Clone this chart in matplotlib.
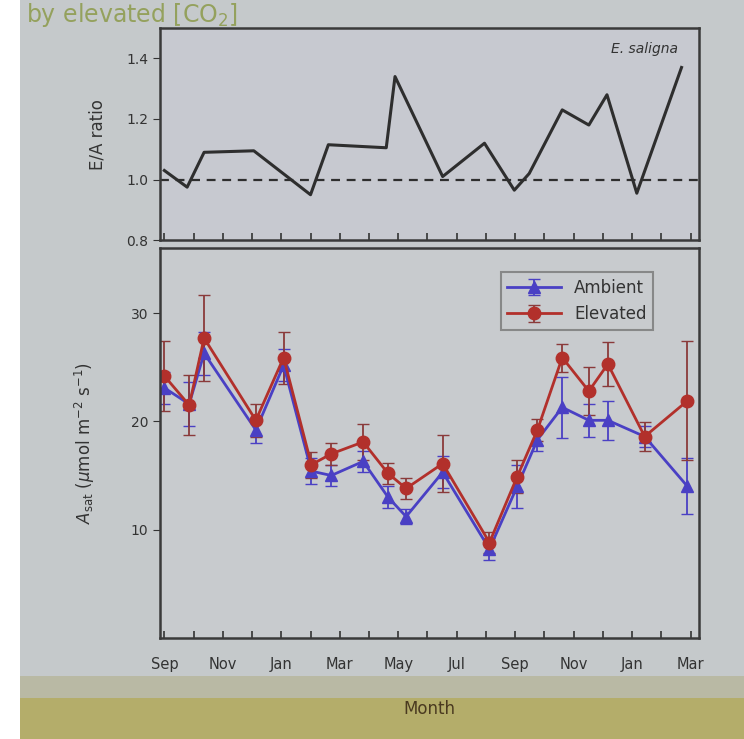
import matplotlib.pyplot as plt
import matplotlib.patches as patches

'''two stacked panels: E/A ratio on top, Asat for ambient / elevated CO2 below'''

# months counted from the first September (0 = Sep, 2 = Nov, ...)
month_ticks = [0, 2, 4, 6, 8, 10, 12, 14, 16, 18]
month_labels = ['Sep', 'Nov', 'Jan', 'Mar', 'May', 'Jul', 'Sep', 'Nov', 'Jan', 'Mar']

# top panel - elevated / ambient ratio
ratio_months = [0.0, 0.78, 1.36, 3.06, 5.0, 5.61, 7.59, 7.89, 9.52, 10.95,
                11.97, 12.48, 13.61, 14.52, 15.14, 16.16, 17.69]
ratio_values = [1.03, 0.975, 1.09, 1.095, 0.95, 1.115, 1.105, 1.34, 1.01, 1.12,
                0.965, 1.02, 1.23, 1.18, 1.28, 0.955, 1.37]

# lower panel - Asat
asat_months = [0.0, 0.85, 1.36, 3.13, 4.08, 5.03, 5.71, 6.80, 7.65, 8.27,
               9.52, 11.12, 12.07, 12.76, 13.61, 14.52, 15.17, 16.43, 17.89]
ambient = [23.1, 21.6, 26.3, 19.2, 25.2, 15.4, 15.0, 16.3, 13.0, 11.2,
           15.3, 8.2, 14.0, 18.3, 21.3, 20.1, 20.1, 18.6, 14.0]
ambient_err = [1.5, 2.0, 2.0, 1.2, 1.5, 1.2, 1.0, 1.0, 1.0, 0.7,
               1.5, 1.0, 2.0, 1.0, 2.8, 1.5, 1.8, 1.0, 2.6]
elevated = [24.2, 21.5, 27.7, 20.1, 25.9, 16.0, 17.0, 18.1, 15.2, 13.8,
            16.1, 8.8, 14.9, 19.2, 25.9, 22.8, 25.3, 18.6, 21.9]
elevated_err = [3.2, 2.8, 4.0, 1.5, 2.4, 1.2, 1.0, 1.7, 1.0, 1.0,
                2.6, 1.0, 1.5, 1.0, 1.3, 2.2, 2.0, 1.3, 5.5]

bg = '#c5c9cb'
ink = '#333333'
blue = '#4a40c4'
red = '#b2302b'

fig = plt.figure(figsize=(7.44, 7.39), dpi=100, facecolor=bg)

# photo surroundings: white strip at left, plants at the bottom
fig.patches.append(patches.Rectangle((0, 0), 0.027, 1, transform=fig.transFigure,
                                     facecolor='white', edgecolor='none', zorder=-5))
fig.patches.append(patches.Rectangle((0.027, 0), 0.973, 0.055, transform=fig.transFigure,
                                     facecolor='#b4ad6a', edgecolor='none', zorder=-5))
fig.patches.append(patches.Rectangle((0.027, 0.055), 0.973, 0.03, transform=fig.transFigure,
                                     facecolor='#b9b9a4', edgecolor='none', zorder=-5))

# slide title at the top edge of the photo
fig.text(0.035, 0.998, 'by elevated [CO$_2$]', fontsize=17, color='#8c9a4a',
         ha='left', va='top', alpha=0.85)

ax1 = fig.add_axes([0.215, 0.675, 0.725, 0.287], facecolor='#c7c9d0')
ax2 = fig.add_axes([0.215, 0.137, 0.725, 0.527], facecolor='#c8cbce')

# top panel
ax1.plot(ratio_months, ratio_values, color='#2e2e2e', linewidth=2.2)
ax1.axhline(1.0, color='#2e2e2e', linestyle=(0, (4, 3)), linewidth=1.6)
ax1.set_xlim(-0.15, 18.3)
ax1.set_ylim(0.8, 1.5)
ax1.set_yticks([0.8, 1.0, 1.2, 1.4])
ax1.set_yticklabels(['0.8', '1.0', '1.2', '1.4'])
ax1.set_xticks(range(0, 19))
ax1.set_xticklabels([])
ax1.tick_params(axis='x', direction='in', length=5, color=ink, width=1.2)
ax1.tick_params(axis='y', direction='out', length=5, color=ink, labelsize=10,
                labelcolor=ink)
ax1.set_ylabel('E/A ratio', fontsize=12, color=ink, labelpad=14)
ax1.text(0.96, 0.9, 'E. saligna', transform=ax1.transAxes, ha='right', va='center',
         fontsize=10, style='italic', color=ink)

# lower panel
ax2.errorbar(asat_months, ambient, yerr=ambient_err, color=blue, marker='^',
             markersize=8, linewidth=2, elinewidth=1.3, capsize=4, label='Ambient')
ax2.errorbar(asat_months, elevated, yerr=elevated_err, color=red, ecolor='#8a3a3a',
             marker='o', markersize=9, linewidth=2, elinewidth=1.3, capsize=4,
             label='Elevated')
ax2.set_xlim(-0.15, 18.3)
ax2.set_ylim(0, 36)
ax2.set_yticks([10, 20, 30])
ax2.set_xticks(month_ticks)
ax2.set_xticklabels(month_labels)
ax2.set_xticks(range(0, 19), minor=True)
ax2.tick_params(axis='x', which='both', direction='in', length=5, color=ink, width=1.2,
                labelsize=10.5, labelcolor=ink, pad=14)
ax2.tick_params(axis='y', direction='out', length=5, color=ink, labelsize=10,
                labelcolor=ink)
ax2.set_ylabel(r'$A_{\rm sat}$ ($\mu$mol m$^{-2}$ s$^{-1}$)', fontsize=12, color=ink,
               labelpad=24)
ax2.set_xlabel('Month', fontsize=12, color='#4a3a20', labelpad=20)

leg = ax2.legend(loc='upper right', bbox_to_anchor=(0.93, 0.96), fontsize=12,
                 handlelength=3.2, frameon=True, fancybox=False, borderpad=0.4)
leg.get_frame().set_facecolor('#c8cbce')
leg.get_frame().set_edgecolor('#777777')
leg.get_frame().set_linewidth(1.5)
for t in leg.get_texts():
    t.set_color(ink)

for ax in (ax1, ax2):
    for s in ax.spines.values():
        s.set_color('#3a3a3a')
        s.set_linewidth(1.8)

plt.savefig('out.png', dpi=100, facecolor=bg)
